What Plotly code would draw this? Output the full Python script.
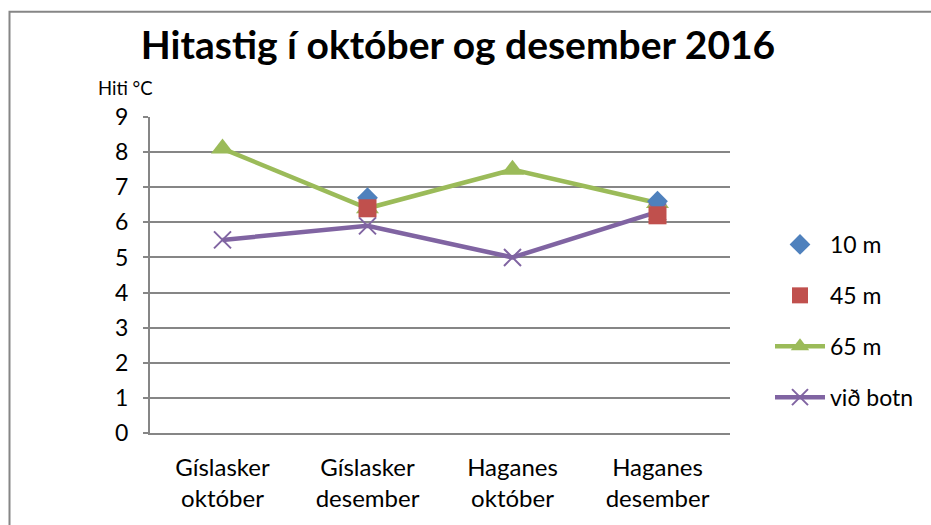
import plotly.graph_objects as go

categories = ["Gíslasker<br>október", "Gíslasker<br>desember", "Haganes<br>október", "Haganes<br>desember"]
s10m = [None, 6.7, None, 6.6]
s45m = [None, 6.4, None, 6.2]
s65m = [8.1, 6.4, 7.5, 6.55]
sbotn = [5.5, 5.9, 5.0, 6.3]
y_ticks = list(range(0, 10))

FONT = "Lato"
GRID = "#868686"

fig = go.Figure()
fig.add_trace(go.Scatter(x=categories, y=s65m, name="65 m", mode="lines+markers",
                         line=dict(color="#9BBB59", width=4.5),
                         marker=dict(symbol="triangle-up", size=20, color="#9BBB59"),
                         legendgroup="c", legendrank=3))
fig.add_trace(go.Scatter(x=categories, y=sbotn, name="við botn", mode="lines+markers",
                         line=dict(color="#8064A2", width=4.5),
                         marker=dict(symbol="x-thin", size=17, color="#8064A2",
                                     line=dict(width=2, color="#8064A2")),
                         legendgroup="d", legendrank=4))
fig.add_trace(go.Scatter(x=categories, y=s10m, name="10 m", mode="markers",
                         marker=dict(symbol="diamond", size=16, color="#4F81BD"),
                         legendgroup="a", legendrank=1))
fig.add_trace(go.Scatter(x=categories, y=s45m, name="45 m", mode="markers",
                         marker=dict(symbol="square", size=18, color="#C0504D"),
                         legendgroup="b", legendrank=2))

fig.update_layout(
    width=931, height=525,
    margin=dict(l=150, r=201, t=117, b=92),
    paper_bgcolor="white", plot_bgcolor="white",
    font=dict(family=FONT, size=22, color="black"),
    title=dict(text="<b>Hitastig í október og desember 2016</b>",
               x=0.492, xref="container", xanchor="center",
               y=1 - 45 / 525, yref="container", yanchor="middle",
               font=dict(family=FONT, size=39, color="black")),
    showlegend=True,
    legend=dict(x=770 / 931, xref="container", xanchor="left",
                y=1 - 223 / 525, yref="container", yanchor="top",
                font=dict(family=FONT, size=23, color="black"),
                tracegroupgap=18, bgcolor="rgba(0,0,0,0)", itemwidth=50),
    xaxis=dict(type="category", range=[-0.5, 3.5], showline=True, linecolor=GRID, linewidth=2,
               showgrid=False, ticks="", tickfont=dict(size=24), ticklabelstandoff=12,
               zeroline=False),
    yaxis=dict(range=[0, 9], tickvals=y_ticks, showline=True, linecolor=GRID, linewidth=2,
               showgrid=True, gridcolor=GRID, gridwidth=1.6, ticks="outside", ticklen=5,
               tickcolor=GRID, tickwidth=1.6, tickfont=dict(size=23), ticklabelstandoff=10,
               zeroline=False),
    shapes=[dict(type="rect", xref="paper", yref="paper",
                 x0=(9.5 - 150) / 580, x1=(945 - 150) / 580,
                 y0=(432.7 - 540) / 316, y1=(432.7 - 11.5) / 316,
                 line=dict(color=GRID, width=2), layer="below")],
    annotations=[dict(text="Hiti °C", xref="paper", yref="paper",
                      x=(125 - 150) / 580, y=(432.7 - 88) / 316,
                      xanchor="center", yanchor="middle", showarrow=False,
                      font=dict(family=FONT, size=18.5, color="black"))],
)

fig.write_html("out.html", config={"displayModeBar": False},
               post_script="document.body.style.margin='0';")
